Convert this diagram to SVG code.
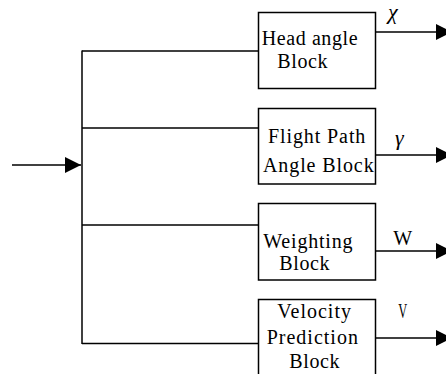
<svg xmlns="http://www.w3.org/2000/svg" width="446" height="374" viewBox="0 0 446 374">
  <style>
    .wire { fill: none; stroke: #000; stroke-width: 1.5; }
    .box { fill: #fff; stroke: #000; stroke-width: 1.5; }
    text { font-family: "Liberation Serif", "DejaVu Serif", serif; font-size: 20px; fill: #000; }
    .sym { font-style: italic; font-size: 22px; }
  </style>
  <defs>
    <marker id="arrow" markerUnits="userSpaceOnUse" markerWidth="16" markerHeight="16" refX="16" refY="8" orient="auto">
      <path d="M0,0 L16,8 L0,16 Z" fill="#000"/>
    </marker>
  </defs>
  <rect width="446" height="374" fill="#fff"/>

  <g id="connectors">
    <!-- input feeding the distribution bus -->
    <line class="wire" x1="12" y1="165" x2="81" y2="165" marker-end="url(#arrow)"/>
    <!-- vertical bus -->
    <line class="wire" x1="82" y1="50.5" x2="82" y2="344"/>
    <!-- branches into each block -->
    <line class="wire" x1="82" y1="51" x2="258.5" y2="51"/>
    <line class="wire" x1="82" y1="128" x2="258.5" y2="128"/>
    <line class="wire" x1="82" y1="225" x2="258.5" y2="225"/>
    <line class="wire" x1="82" y1="343.5" x2="258.5" y2="343.5"/>
    <!-- block outputs -->
    <line class="wire" x1="375.5" y1="32" x2="452" y2="32" marker-end="url(#arrow)"/>
    <line class="wire" x1="375.5" y1="155" x2="452" y2="155" marker-end="url(#arrow)"/>
    <line class="wire" x1="375.5" y1="251" x2="452" y2="251" marker-end="url(#arrow)"/>
    <line class="wire" x1="375.5" y1="338" x2="452" y2="338" marker-end="url(#arrow)"/>
    <!-- output labels -->
    <text class="sym" x="388" y="19">χ</text>
    <text class="sym" x="395" y="145">γ</text>
    <text x="393.3" y="245">W</text>
    <text x="398.3" y="318.3" textLength="9" lengthAdjust="spacingAndGlyphs">V</text>
  </g>

  <g id="head-angle-block">
    <rect class="box" x="258.5" y="12.5" width="117" height="76"/>
    <text x="261.7" y="45" letter-spacing="0.6">Head angle</text>
    <text x="277.3" y="68" letter-spacing="0.6">Block</text>
  </g>

  <g id="flight-path-angle-block">
    <rect class="box" x="258.5" y="108.5" width="117" height="75.5"/>
    <text x="268" y="142.7" letter-spacing="0.9">Flight Path</text>
    <text x="263" y="171.7" letter-spacing="0.9">Angle Block</text>
  </g>

  <g id="weighting-block">
    <rect class="box" x="258.5" y="203.5" width="117" height="76.5"/>
    <text x="263.3" y="248.3" letter-spacing="0.8">Weighting</text>
    <text x="279.3" y="270" letter-spacing="0.6">Block</text>
  </g>

  <g id="velocity-prediction-block">
    <rect class="box" x="258.5" y="299.5" width="117" height="84"/>
    <text x="277.3" y="318.3" letter-spacing="1">Velocity</text>
    <text x="266.7" y="344.3" letter-spacing="1">Prediction</text>
    <text x="289.3" y="367.7" letter-spacing="0.6">Block</text>
  </g>
</svg>
